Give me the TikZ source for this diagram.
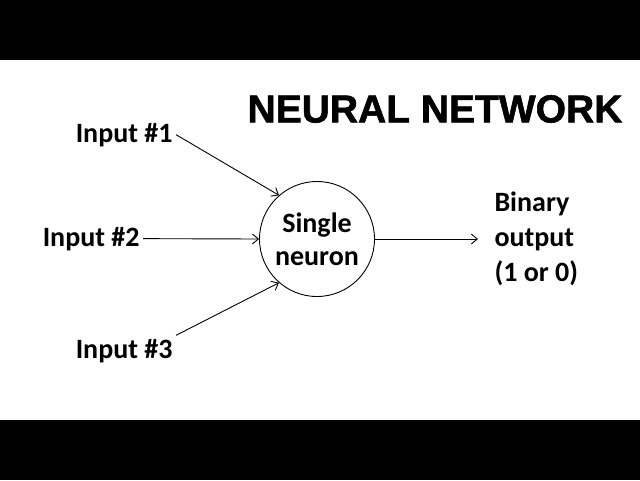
\documentclass[tikz,border=0pt]{standalone}
\usepackage{fontspec}
\setmainfont{Carlito}
\newfontfamily\titlefont{Liberation Sans}[BoldFeatures={FakeBold=1.5}]
\usepackage{tikz}
\usetikzlibrary{arrows.meta}

\begin{document}
\begin{tikzpicture}[x=1pt,y=-1pt,
	label/.style={font=\fontsize{28}{35}\selectfont\bfseries},
	link/.style={-{Straight Barb[length=6pt,width=10pt]},line width=0.9pt}]
	
	\useasboundingbox (0,0) rectangle (640,480);
	\fill[black] (0,0) rectangle (640,60);
	\fill[black] (0,420) rectangle (640,480);
	
	\node[font=\titlefont\fontsize{39}{40}\selectfont\bfseries] (title) at (435, 109) {NEURAL NETWORK};
	
	\node[label,anchor=base east] (in1) at (176, 142)     {Input \#1};
	\node[label,anchor=base east] (in2) at (143, 246)     {Input \#2};
	\node[label,anchor=base east] (in3) at (176, 358)     {Input \#3};
	\node[shape=circle,draw=black,line width=0.9pt,minimum size=115pt,inner sep=0pt,align=center,
		font=\fontsize{28}{33}\selectfont\bfseries] (neuron) at (317, 239)     {Single\\neuron};
	\node[label,anchor=west,align=left] (out) at (491, 239)     {Binary\\output\\(1 or 0)};
 
	\draw[link] (in1.east) -- (neuron.131);
	\draw[link] (in2.east) -- (neuron.west);
	\draw[link] (in3.north east) -- (neuron.229);
	\draw[link, shorten >=13pt] (neuron.east) -- (out.west);
	
\end{tikzpicture}
\end{document}
